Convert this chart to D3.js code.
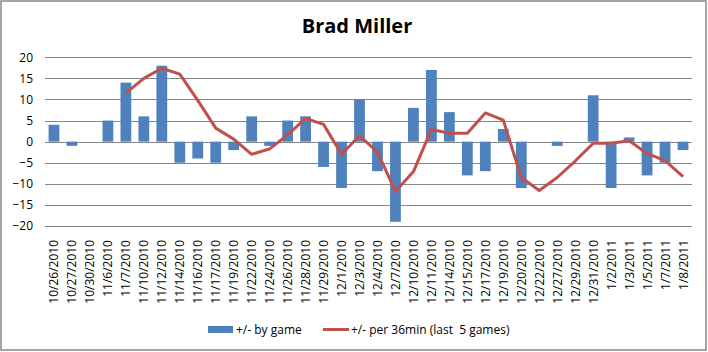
<!DOCTYPE html>
<html>
<head>
<meta charset="utf-8">
<script src="https://cdn.jsdelivr.net/npm/d3@7"></script>
<style>
    body { margin: 0; background: #fff; }
    text { font-family: "Open Sans", sans-serif; fill: #000; }
</style>
</head>
<body>
<div id="chart"></div>
<script>
// game dates (category axis)
var games = ["10/26/2010", "10/27/2010", "10/30/2010", "11/6/2010", "11/7/2010", "11/10/2010",
    "11/12/2010", "11/14/2010", "11/16/2010", "11/17/2010", "11/19/2010", "11/22/2010",
    "11/24/2010", "11/26/2010", "11/28/2010", "11/29/2010", "12/1/2010", "12/3/2010",
    "12/4/2010", "12/7/2010", "12/10/2010", "12/11/2010", "12/14/2010", "12/15/2010",
    "12/17/2010", "12/19/2010", "12/20/2010", "12/22/2010", "12/27/2010", "12/29/2010",
    "12/31/2010", "1/2/2011", "1/3/2011", "1/5/2011", "1/7/2011", "1/8/2011"];

// +/- by game
var by_game = [4, -1, 0, 5, 14, 6, 18, -5, -4, -5, -2, 6, -1, 5, 6, -6, -11, 10,
    -7, -19, 8, 17, 7, -8, -7, 3, -11, 0, -1, 0, 11, -11, 1, -8, -5, -2];

// +/- per 36min, last 5 games (nothing until 5th game)
var per36 = [null, null, null, null, 11.5, 15.0, 17.4, 16.0, 9.8, 3.2, 0.6, -3.0,
    -1.7, 1.6, 5.5, 4.1, -3.0, 1.4, -2.5, -11.8, -7.1, 2.9, 2.0, 2.0, 6.8, 5.1,
    -8.5, -11.6, -8.5, -4.6, -0.4, -0.4, 0.2, -2.8, -4.5, -8.3];

var y_ticks = [-20, -15, -10, -5, 0, 5, 10, 15, 20];

var width = 708, height = 352;
var bar_color = "#4F81BD", line_color = "#C0504D", grid_color = "#868686";

var svg = d3.select("#chart").append("svg")
    .attr("width", width)
    .attr("height", height);

// outer chart border
svg.append("rect")
    .attr("x", 1).attr("y", 1)
    .attr("width", 705).attr("height", 349)
    .attr("fill", "#fff")
    .attr("stroke", grid_color)
    .attr("stroke-width", 1.5);

// scales
var x_scale = d3.scaleBand()
    .domain(games)
    .range([45, 692])
    .paddingInner(0.4)
    .paddingOuter(0.2);

var x_center = d3.scalePoint()
    .domain(games)
    .range([45, 692])
    .padding(0.5);

var y_scale = d3.scaleLinear()
    .domain([-20, 20])
    .range([226, 57.3]);

// gridlines
svg.append("g").selectAll("line")
    .data(y_ticks)
    .enter().append("line")
    .attr("x1", 45).attr("x2", 692)
    .attr("y1", function(d) { return Math.round(y_scale(d)) + 0.5; })
    .attr("y2", function(d) { return Math.round(y_scale(d)) + 0.5; })
    .attr("stroke", grid_color)
    .attr("stroke-width", 1);

// y axis labels
var y_axis = d3.axisLeft(y_scale)
    .tickValues(y_ticks)
    .tickSize(0)
    .tickPadding(0);

svg.append("g")
    .attr("transform", "translate(33,0)")
    .call(y_axis)
    .call(function(g) { g.select(".domain").remove(); })
    .selectAll("text")
    .style("font-family", "'Open Sans', sans-serif")
    .style("font-size", "12px")
    .attr("fill", "#000");

// bars
svg.append("g").selectAll("rect")
    .data(games)
    .enter().append("rect")
    .attr("x", function(d) { return x_scale(d); })
    .attr("width", x_scale.bandwidth())
    .attr("y", function(d, i) { return y_scale(Math.max(0, by_game[i])); })
    .attr("height", function(d, i) { return Math.abs(y_scale(by_game[i]) - y_scale(0)); })
    .attr("fill", bar_color);

// x labels, rotated
svg.append("g").selectAll("text")
    .data(games)
    .enter().append("text")
    .attr("transform", function(d) {
        return "translate(" + (x_center(d) + 4.5) + ",240) rotate(-90)";
    })
    .attr("text-anchor", "end")
    .style("font-size", "12px")
    .text(function(d) { return d; });

// moving line
var line = d3.line()
    .defined(function(d) { return d.v !== null; })
    .x(function(d) { return x_center(d.game); })
    .y(function(d) { return y_scale(d.v); });

svg.append("path")
    .datum(games.map(function(g, i) { return {game: g, v: per36[i]}; }))
    .attr("d", line)
    .attr("fill", "none")
    .attr("stroke", line_color)
    .attr("stroke-width", 3)
    .attr("stroke-linejoin", "round");

// title
svg.append("text")
    .attr("x", 357).attr("y", 33)
    .attr("text-anchor", "middle")
    .style("font-size", "20px")
    .style("font-weight", "bold")
    .text("Brad Miller");

// legend
var legend = svg.append("g");
legend.append("rect")
    .attr("x", 208).attr("y", 326)
    .attr("width", 25).attr("height", 7)
    .attr("fill", bar_color);
legend.append("text")
    .attr("x", 236).attr("y", 334)
    .style("font-size", "12px")
    .text("+/- by game");
legend.append("line")
    .attr("x1", 323).attr("x2", 349)
    .attr("y1", 329.5).attr("y2", 329.5)
    .attr("stroke", line_color)
    .attr("stroke-width", 3);
legend.append("text")
    .attr("x", 351).attr("y", 334)
    .style("font-size", "12px")
    .style("white-space", "pre")
    .text("+/- per 36min (last  5 games)");
</script>
</body>
</html>
